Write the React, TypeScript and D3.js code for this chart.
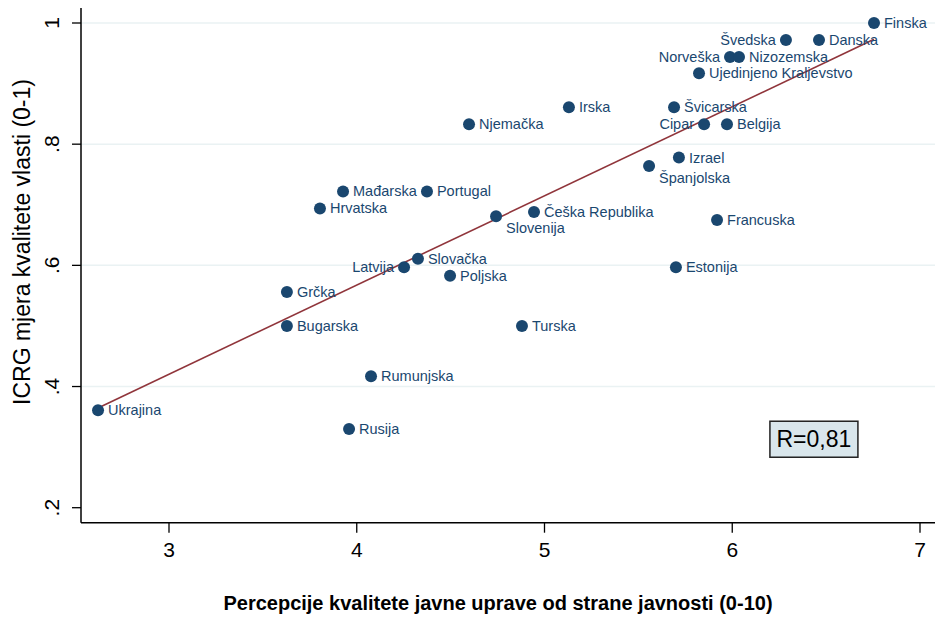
import { useEffect, useRef } from "react";
import * as d3 from "d3";

const width = 938;
const height = 618;

// države i vrijednosti (x: percepcija javnosti, y: ICRG)
const countries = [
  "Finska", "Švedska", "Danska", "Norveška", "Nizozemska",
  "Ujedinjeno Kraljevstvo", "Irska", "Njemačka", "Švicarska", "Cipar",
  "Belgija", "Izrael", "Španjolska", "Francuska", "Estonija",
  "Mađarska", "Portugal", "Hrvatska", "Slovenija", "Češka Republika",
  "Slovačka", "Latvija", "Poljska", "Grčka", "Bugarska",
  "Turska", "Rumunjska", "Ukrajina", "Rusija",
];
const perception = [
  6.755, 6.286, 6.462, 5.988, 6.036,
  5.823, 5.13, 4.598, 5.69, 5.85,
  5.972, 5.716, 5.557, 5.919, 5.7,
  3.927, 4.374, 3.804, 4.742, 4.944,
  4.326, 4.252, 4.497, 3.628, 3.628,
  4.88, 4.076, 2.622, 3.959,
];
const icrg = [
  1.0, 0.972, 0.972, 0.944, 0.944,
  0.917, 0.861, 0.833, 0.861, 0.833,
  0.833, 0.778, 0.764, 0.675, 0.597,
  0.722, 0.722, 0.694, 0.681, 0.688,
  0.611, 0.597, 0.583, 0.556, 0.5,
  0.5, 0.417, 0.361, 0.33,
];

const xTicks = [3, 4, 5, 6, 7];
const yTicks = [0.2, 0.4, 0.6, 0.8, 1];
const rLabel = "R=0,81";

// položaj oznake: l = lijevo, br = dolje desno, ostalo desno
const labelSide: Record<string, string> = {
  Švedska: "l",
  Norveška: "l",
  Cipar: "l",
  Latvija: "l",
  Španjolska: "br",
  Slovenija: "br",
};

const navy = "#1a476f";
const font = "'Liberation Sans', Arial, Helvetica, sans-serif";

export default function App() {
  const svgRef = useRef<SVGSVGElement | null>(null);

  useEffect(() => {
    if (!svgRef.current) return;
    const svg = d3.select(svgRef.current);

    const data = countries.map((name, i) => ({
      name,
      x: perception[i],
      y: icrg[i],
    }));

    const x = d3.scaleLinear().domain([3, 7]).range([169, 920]);
    const y = d3.scaleLinear().domain([0.2, 1]).range([507.7, 23]);
    const left = 81;
    const right = 935;
    const bottom = 522.7;
    const top = 8;

    // linearni fit (OLS)
    const mx = d3.mean(perception) ?? 0;
    const my = d3.mean(icrg) ?? 0;
    const sxy = d3.sum(perception, (v, i) => (v - mx) * (icrg[i] - my));
    const sxx = d3.sum(perception, (v) => (v - mx) ** 2);
    const slope = sxy / sxx;
    const intercept = my - slope * mx;
    const [x0, x1] = d3.extent(perception) as [number, number];

    // mreža
    svg
      .select(".grid")
      .selectAll("line")
      .data(yTicks.filter((t) => t > 0.2))
      .join("line")
      .attr("x1", left)
      .attr("x2", right)
      .attr("y1", (d) => y(d))
      .attr("y2", (d) => y(d))
      .attr("stroke", "#eaf2f3")
      .attr("stroke-width", 1.5);

    // fit linija
    svg
      .select(".fit")
      .attr("x1", x(x0))
      .attr("x2", x(x1))
      .attr("y1", y(intercept + slope * x0))
      .attr("y2", y(intercept + slope * x1))
      .attr("stroke", "#90353b")
      .attr("stroke-width", 1.6);

    // točke
    svg
      .select(".points")
      .selectAll("circle")
      .data(data)
      .join("circle")
      .attr("cx", (d) => x(d.x))
      .attr("cy", (d) => y(d.y))
      .attr("r", 6)
      .attr("fill", navy);

    // oznake
    svg
      .select(".labels")
      .selectAll("text")
      .data(data)
      .join("text")
      .attr("x", (d) => x(d.x) + (labelSide[d.name] === "l" ? -10 : 10))
      .attr("y", (d) => y(d.y) + (labelSide[d.name] === "br" ? 17 : 5))
      .attr("text-anchor", (d) => (labelSide[d.name] === "l" ? "end" : "start"))
      .attr("fill", navy)
      .style("font-family", font)
      .style("font-size", "14.5px")
      .text((d) => d.name);

    // osi
    const axes = svg.select(".axes");
    axes.selectAll("*").remove();
    axes
      .append("line")
      .attr("x1", left)
      .attr("x2", left)
      .attr("y1", top)
      .attr("y2", bottom)
      .attr("stroke", "#000")
      .attr("stroke-width", 1.5);
    axes
      .append("line")
      .attr("x1", left)
      .attr("x2", right)
      .attr("y1", bottom)
      .attr("y2", bottom)
      .attr("stroke", "#000")
      .attr("stroke-width", 1.5);

    axes
      .selectAll(".xt")
      .data(xTicks)
      .join("line")
      .attr("class", "xt")
      .attr("x1", (d) => x(d))
      .attr("x2", (d) => x(d))
      .attr("y1", bottom)
      .attr("y2", bottom + 10)
      .attr("stroke", "#000")
      .attr("stroke-width", 1.3);
    axes
      .selectAll(".xl")
      .data(xTicks)
      .join("text")
      .attr("class", "xl")
      .attr("x", (d) => x(d))
      .attr("y", bottom + 34)
      .attr("text-anchor", "middle")
      .style("font-family", font)
      .style("font-size", "21px")
      .text((d) => String(d));

    axes
      .selectAll(".yt")
      .data(yTicks)
      .join("line")
      .attr("class", "yt")
      .attr("x1", left - 9)
      .attr("x2", left)
      .attr("y1", (d) => y(d))
      .attr("y2", (d) => y(d))
      .attr("stroke", "#000")
      .attr("stroke-width", 1.3);
    axes
      .selectAll(".yl")
      .data(yTicks)
      .join("text")
      .attr("class", "yl")
      .attr("transform", (d) => `translate(${left - 22}, ${y(d)}) rotate(-90)`)
      .attr("text-anchor", "middle")
      .style("font-family", font)
      .style("font-size", "21px")
      .text((d) => (d === 1 ? "1" : d3.format(".1f")(d).replace(/^0/, "")));

    // naslovi osi
    svg
      .select(".y-title")
      .attr("transform", `translate(30, 242) rotate(-90)`)
      .attr("text-anchor", "middle")
      .style("font-family", font)
      .style("font-size", "23px")
      .text("ICRG mjera kvalitete vlasti (0-1)");

    svg
      .select(".x-title")
      .attr("x", 498)
      .attr("y", 610)
      .attr("text-anchor", "middle")
      .style("font-family", font)
      .style("font-size", "20px")
      .style("font-weight", "700")
      .text("Percepcije kvalitete javne uprave od strane javnosti (0-10)");

    // R okvir
    const rb = svg.select(".rbox");
    rb.selectAll("*").remove();
    const cx = x(6.435);
    const cy = y(0.313);
    rb.append("rect")
      .attr("x", cx - 44)
      .attr("y", cy - 18)
      .attr("width", 88)
      .attr("height", 36)
      .attr("fill", "#d9e6ec")
      .attr("stroke", "#222")
      .attr("stroke-width", 1.5);
    rb.append("text")
      .attr("x", cx)
      .attr("y", cy + 8)
      .attr("text-anchor", "middle")
      .style("font-family", font)
      .style("font-size", "23px")
      .text(rLabel);
  }, []);

  return (
    <svg
      ref={svgRef}
      width={width}
      height={height}
      viewBox={`0 0 ${width} ${height}`}
      style={{ position: "absolute", left: 0, top: 0, background: "#fff" }}
    >
      <g className="grid" />
      <line className="fit" />
      <g className="points" />
      <g className="labels" />
      <g className="axes" />
      <text className="y-title" />
      <text className="x-title" />
      <g className="rbox" />
    </svg>
  );
}
